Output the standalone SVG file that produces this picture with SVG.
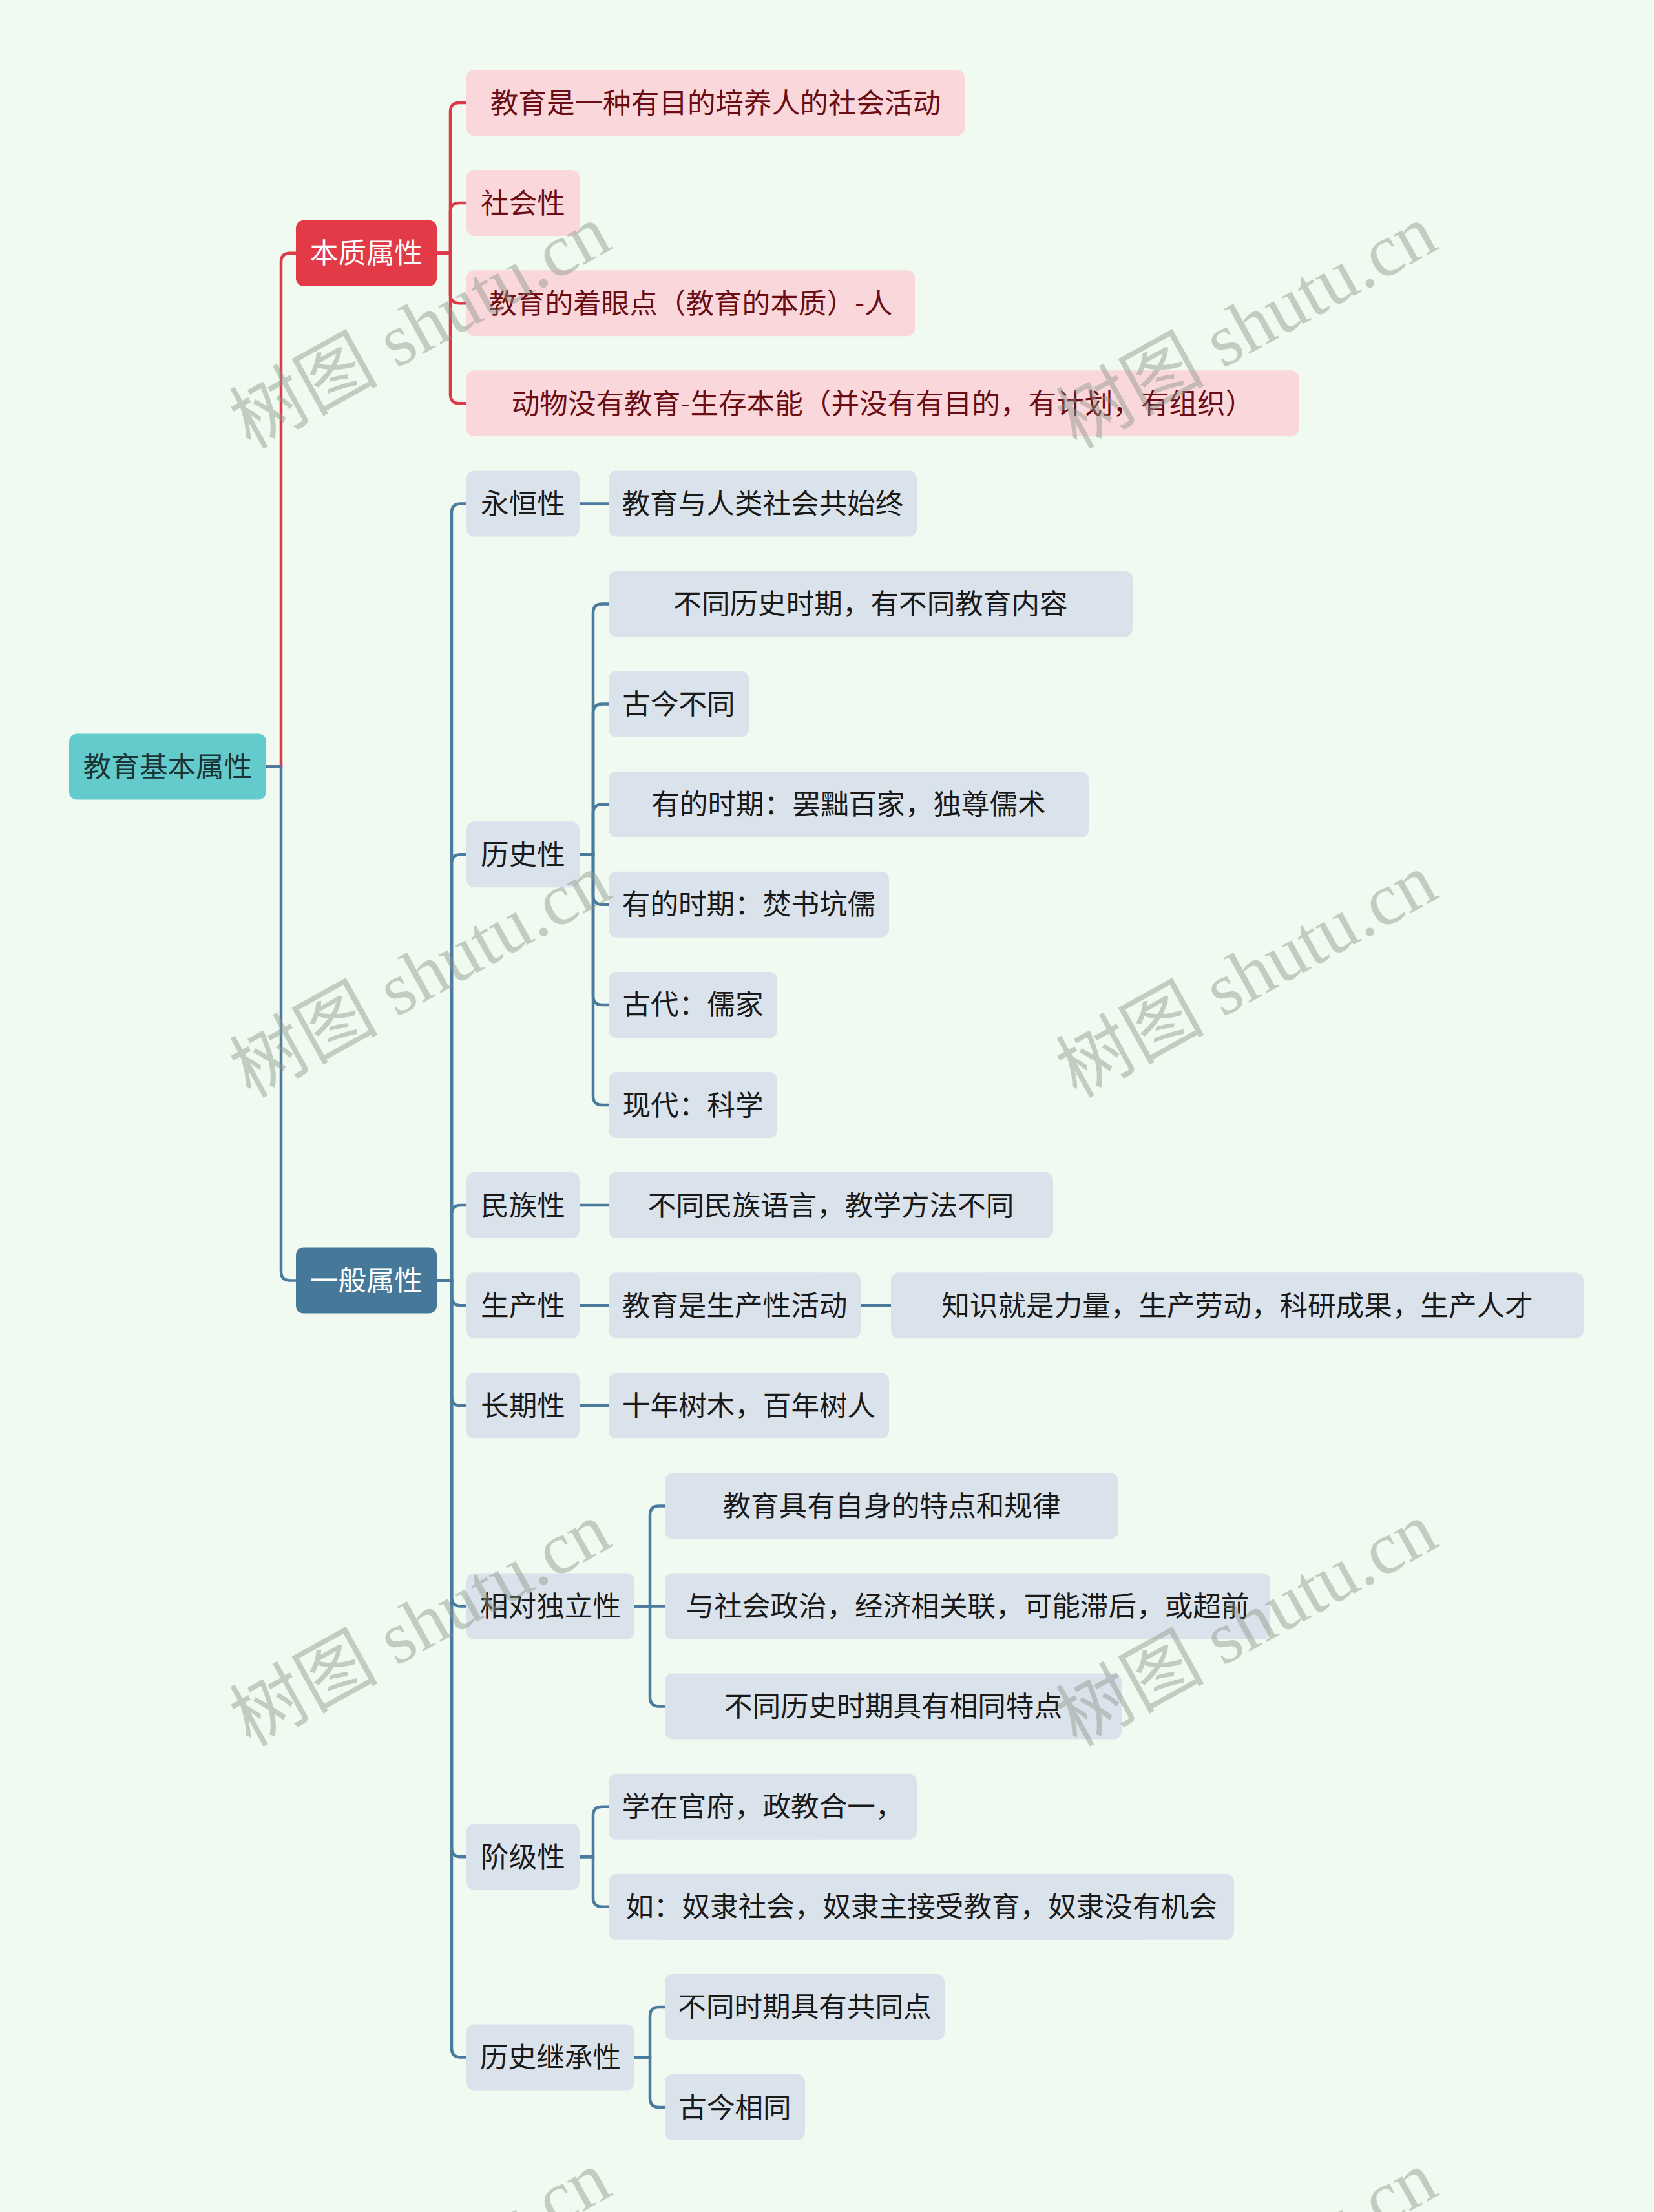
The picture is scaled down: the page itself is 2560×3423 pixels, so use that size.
<svg xmlns="http://www.w3.org/2000/svg" width="2560" height="3423" viewBox="0 0 2560 3423">
<style>
text{font-family:"Noto Sans CJK SC","Noto Sans CJK TC",sans-serif;font-size:43.6px;text-anchor:middle}
.root rect{fill:#64CBCD}
.root text{fill:#1B3536}
.l1r rect{fill:#E23A46}
.l1b rect{fill:#467899}
.l1r text,.l1b text{fill:#FFFFFF}
.rc rect{fill:#FAD7DB}
.rc text{fill:#6A0D14}
.bc rect{fill:#DAE3EB}
.bc text{fill:#1A1A1A}
.red path{stroke:#DC3A46;stroke-width:4.5;fill:none}
.blue path{stroke:#4A7A9C;stroke-width:4.5;fill:none}
.wm text{font-family:"Liberation Serif","Noto Sans CJK SC",serif;font-size:115px;text-anchor:start;fill:#8A968A;fill-opacity:0.45}
</style>
<rect x="0" y="0" width="2560" height="3423" fill="#F0FAF0"/>

<g id="connectors">
  <g class="red">
    <path d="M412,1186.5 H435 V405.65 Q435,391.65 449,391.65 H458"/>
    <path d="M676,391.65 H697 V173 Q697,159 711,159 H722"/>
    <path d="M676,391.65 H697 V328.1 Q697,314.1 711,314.1 H722"/>
    <path d="M676,391.65 H697 V455.2 Q697,469.2 711,469.2 H722"/>
    <path d="M676,391.65 H697 V610.3 Q697,624.3 711,624.3 H722"/>
  </g>
  <g class="blue">
    <path d="M412,1186.5 H435 V1967.4 Q435,1981.4 449,1981.4 H458"/>
    <path d="M676,1981.4 H699 V793.4 Q699,779.4 713,779.4 H722"/>
    <path d="M676,1981.4 H699 V1336.25 Q699,1322.25 713,1322.25 H722"/>
    <path d="M676,1981.4 H699 V1879.1 Q699,1865.1 713,1865.1 H722"/>
    <path d="M676,1981.4 H699 V2006.2 Q699,2020.2 713,2020.2 H722"/>
    <path d="M676,1981.4 H699 V2161.3 Q699,2175.3 713,2175.3 H722"/>
    <path d="M676,1981.4 H699 V2471.5 Q699,2485.5 713,2485.5 H722"/>
    <path d="M676,1981.4 H699 V2859.25 Q699,2873.25 713,2873.25 H722"/>
    <path d="M676,1981.4 H699 V3169.45 Q699,3183.45 713,3183.45 H722"/>
    <path d="M897,779.4 H942"/>
    <path d="M897,1322.25 H918 V948.5 Q918,934.5 932,934.5 H942"/>
    <path d="M897,1322.25 H918 V1103.6 Q918,1089.6 932,1089.6 H942"/>
    <path d="M897,1322.25 H918 V1258.7 Q918,1244.7 932,1244.7 H942"/>
    <path d="M897,1322.25 H918 V1385.8 Q918,1399.8 932,1399.8 H942"/>
    <path d="M897,1322.25 H918 V1540.9 Q918,1554.9 932,1554.9 H942"/>
    <path d="M897,1322.25 H918 V1696 Q918,1710 932,1710 H942"/>
    <path d="M897,1865.1 H942"/>
    <path d="M897,2020.2 H942"/>
    <path d="M1332,2020.2 H1379"/>
    <path d="M897,2175.3 H942"/>
    <path d="M982,2485.5 H1006 V2344.4 Q1006,2330.4 1020,2330.4 H1029"/>
    <path d="M982,2485.5 H1029"/>
    <path d="M982,2485.5 H1006 V2626.6 Q1006,2640.6 1020,2640.6 H1029"/>
    <path d="M897,2873.25 H918 V2809.7 Q918,2795.7 932,2795.7 H942"/>
    <path d="M897,2873.25 H918 V2936.8 Q918,2950.8 932,2950.8 H942"/>
    <path d="M982,3183.45 H1006 V3119.9 Q1006,3105.9 1020,3105.9 H1029"/>
    <path d="M982,3183.45 H1006 V3247 Q1006,3261 1020,3261 H1029"/>
  </g>
</g>

<g id="root" class="root"><rect x="107" y="1135.5" width="305" height="102" rx="12"/><text x="259.5" y="1202">教育基本属性</text></g>

<g id="n-benzhi" class="l1r"><rect x="458" y="340.65" width="218" height="102" rx="12"/><text x="567" y="407.15">本质属性</text></g>
<g id="n-yiban" class="l1b"><rect x="458" y="1930.4" width="218" height="102" rx="12"/><text x="567" y="1996.9">一般属性</text></g>

<g id="n-r1" class="rc"><rect x="722" y="108" width="771" height="102" rx="12"/><text x="1107.5" y="174.5">教育是一种有目的培养人的社会活动</text></g>
<g id="n-r2" class="rc"><rect x="722" y="263.1" width="175" height="102" rx="12"/><text x="809.5" y="329.6">社会性</text></g>
<g id="n-r3" class="rc"><rect x="722" y="418.2" width="694" height="102" rx="12"/><text x="1069" y="484.7">教育的着眼点（教育的本质）-人</text></g>
<g id="n-r4" class="rc"><rect x="722" y="573.3" width="1288" height="102" rx="12"/><text x="1366" y="639.8">动物没有教育-生存本能（并没有有目的，有计划，有组织）</text></g>

<g id="n-yongheng" class="bc"><rect x="722" y="728.4" width="175" height="102" rx="12"/><text x="809.5" y="794.9">永恒性</text></g>
<g id="n-lishi" class="bc"><rect x="722" y="1271.25" width="175" height="102" rx="12"/><text x="809.5" y="1337.75">历史性</text></g>
<g id="n-minzu" class="bc"><rect x="722" y="1814.1" width="175" height="102" rx="12"/><text x="809.5" y="1880.6">民族性</text></g>
<g id="n-shengchan" class="bc"><rect x="722" y="1969.2" width="175" height="102" rx="12"/><text x="809.5" y="2035.7">生产性</text></g>
<g id="n-changqi" class="bc"><rect x="722" y="2124.3" width="175" height="102" rx="12"/><text x="809.5" y="2190.8">长期性</text></g>
<g id="n-xiangdui" class="bc"><rect x="722" y="2434.5" width="260" height="102" rx="12"/><text x="852" y="2501">相对独立性</text></g>
<g id="n-jieji" class="bc"><rect x="722" y="2822.25" width="175" height="102" rx="12"/><text x="809.5" y="2888.75">阶级性</text></g>
<g id="n-jicheng" class="bc"><rect x="722" y="3132.45" width="260" height="102" rx="12"/><text x="852" y="3198.95">历史继承性</text></g>

<g id="n-b1" class="bc"><rect x="942" y="728.4" width="477" height="102" rx="12"/><text x="1180.5" y="794.9">教育与人类社会共始终</text></g>
<g id="n-b2" class="bc"><rect x="942" y="883.5" width="811" height="102" rx="12"/><text x="1347.5" y="950">不同历史时期，有不同教育内容</text></g>
<g id="n-b3" class="bc"><rect x="942" y="1038.6" width="217" height="102" rx="12"/><text x="1050.5" y="1105.1">古今不同</text></g>
<g id="n-b4" class="bc"><rect x="942" y="1193.7" width="743" height="102" rx="12"/><text x="1313.5" y="1260.2">有的时期：罢黜百家，独尊儒术</text></g>
<g id="n-b5" class="bc"><rect x="942" y="1348.8" width="434" height="102" rx="12"/><text x="1159" y="1415.3">有的时期：焚书坑儒</text></g>
<g id="n-b6" class="bc"><rect x="942" y="1503.9" width="261" height="102" rx="12"/><text x="1072.5" y="1570.4">古代：儒家</text></g>
<g id="n-b7" class="bc"><rect x="942" y="1659" width="261" height="102" rx="12"/><text x="1072.5" y="1725.5">现代：科学</text></g>
<g id="n-b8" class="bc"><rect x="942" y="1814.1" width="688" height="102" rx="12"/><text x="1286" y="1880.6">不同民族语言，教学方法不同</text></g>
<g id="n-b9" class="bc"><rect x="942" y="1969.2" width="390" height="102" rx="12"/><text x="1137" y="2035.7">教育是生产性活动</text></g>
<g id="n-b10" class="bc"><rect x="1379" y="1969.2" width="1072" height="102" rx="12"/><text x="1915" y="2035.7">知识就是力量，生产劳动，科研成果，生产人才</text></g>
<g id="n-b11" class="bc"><rect x="942" y="2124.3" width="434" height="102" rx="12"/><text x="1159" y="2190.8">十年树木，百年树人</text></g>
<g id="n-b12" class="bc"><rect x="1029" y="2279.4" width="702" height="102" rx="12"/><text x="1380" y="2345.9">教育具有自身的特点和规律</text></g>
<g id="n-b13" class="bc"><rect x="1029" y="2434.5" width="937" height="102" rx="12"/><text x="1497.5" y="2501">与社会政治，经济相关联，可能滞后，或超前</text></g>
<g id="n-b14" class="bc"><rect x="1029" y="2589.6" width="707" height="102" rx="12"/><text x="1382.5" y="2656.1">不同历史时期具有相同特点</text></g>
<g id="n-b15" class="bc"><rect x="942" y="2744.7" width="477" height="102" rx="12"/><text x="1180.5" y="2811.2">学在官府，政教合一，</text></g>
<g id="n-b16" class="bc"><rect x="942" y="2899.8" width="968" height="102" rx="12"/><text x="1426" y="2966.3">如：奴隶社会，奴隶主接受教育，奴隶没有机会</text></g>
<g id="n-b17" class="bc"><rect x="1029" y="3054.9" width="433" height="102" rx="12"/><text x="1245.5" y="3121.4">不同时期具有共同点</text></g>
<g id="n-b18" class="bc"><rect x="1029" y="3210" width="217" height="102" rx="12"/><text x="1137.5" y="3276.5">古今相同</text></g>

<g id="watermarks" class="wm">
  <text transform="translate(387,696) rotate(-29)">树图 shutu.cn</text>
  <text transform="translate(1666,696) rotate(-29)">树图 shutu.cn</text>
  <text transform="translate(387,1700) rotate(-29)">树图 shutu.cn</text>
  <text transform="translate(1666,1700) rotate(-29)">树图 shutu.cn</text>
  <text transform="translate(387,2704) rotate(-29)">树图 shutu.cn</text>
  <text transform="translate(1666,2704) rotate(-29)">树图 shutu.cn</text>
  <text transform="translate(387,3708) rotate(-29)">树图 shutu.cn</text>
  <text transform="translate(1666,3708) rotate(-29)">树图 shutu.cn</text>
</g>
</svg>
